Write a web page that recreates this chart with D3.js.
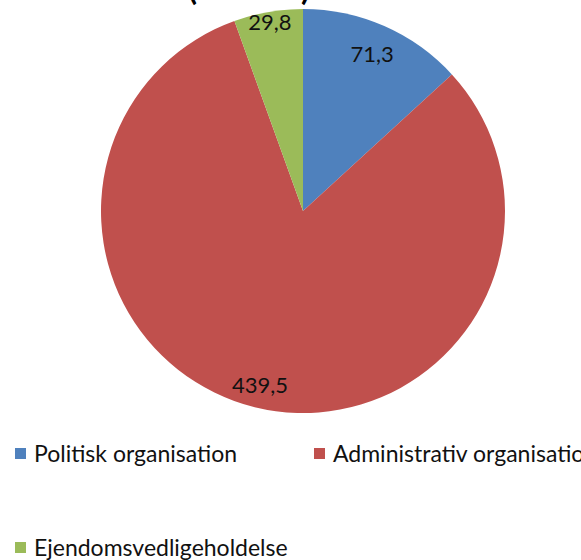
<!DOCTYPE html>
<html>
<head>
<meta charset="utf-8">
<script src="https://cdn.jsdelivr.net/npm/d3@7"></script>
<style>
  body { margin: 0; background: #fff; }
  svg { display: block; font-family: Lato, "Open Sans", sans-serif; }
</style>
</head>
<body>
<div id="chart"></div>
<script>
// Data
var categories = ["Politisk organisation", "Administrativ organisation", "Ejendomsvedligeholdelse"];
var values = [71.3, 439.5, 29.8];
var labels = ["71,3", "439,5", "29,8"];
var colors = ["#4F81BD", "#C0504D", "#9BBB59"];

var width = 581, height = 560;
var cx = 303, cy = 211, r = 202;

var svg = d3.select("#chart").append("svg")
    .attr("width", width)
    .attr("height", height);

// title (mostly cut off at the top)
svg.append("text")
    .attr("x", 249)
    .attr("y", 0)
    .attr("text-anchor", "middle")
    .style("font-weight", "bold")
    .style("font-size", "32px")
    .text("(mio. kr.)");

var pie = d3.pie().sort(null).value(function(d) { return d; });
var arcs = pie(values);

var arc = d3.arc().innerRadius(0).outerRadius(r);
// label distance from centre, per slice
var labelR = [0.85, 0.89, 0.95];

var g = svg.append("g").attr("transform", "translate(" + cx + "," + cy + ")");

g.selectAll("path")
    .data(arcs)
    .enter()
    .append("path")
    .attr("d", arc)
    .style("fill", function(d, i) { return colors[i]; });

g.selectAll(".lbl")
    .data(arcs)
    .enter()
    .append("text")
    .attr("class", "lbl")
    .attr("transform", function(d, i) {
        var a = (d.startAngle + d.endAngle) / 2, rr = r * labelR[i];
        return "translate(" + (Math.sin(a) * rr) + "," + (-Math.cos(a) * rr) + ")";
    })
    .attr("dy", ".35em")
    .style("text-anchor", "middle")
    .style("font-size", "22px")
    .style("fill", "#111")
    .text(function(d, i) { return labels[i]; });

// legend
var legendPos = [[15, 454], [314, 454], [15, 548]];
var legend = svg.selectAll(".legend")
    .data(categories)
    .enter()
    .append("g")
    .attr("class", "legend")
    .attr("transform", function(d, i) { return "translate(" + legendPos[i][0] + "," + legendPos[i][1] + ")"; });

legend.append("rect")
    .attr("x", 0)
    .attr("y", -6)
    .attr("width", 11)
    .attr("height", 11)
    .style("fill", function(d, i) { return colors[i]; });

legend.append("text")
    .attr("x", 19)
    .attr("dy", ".35em")
    .style("font-size", "23px")
    .style("fill", "#111")
    .text(function(d) { return d; });
</script>
</body>
</html>
